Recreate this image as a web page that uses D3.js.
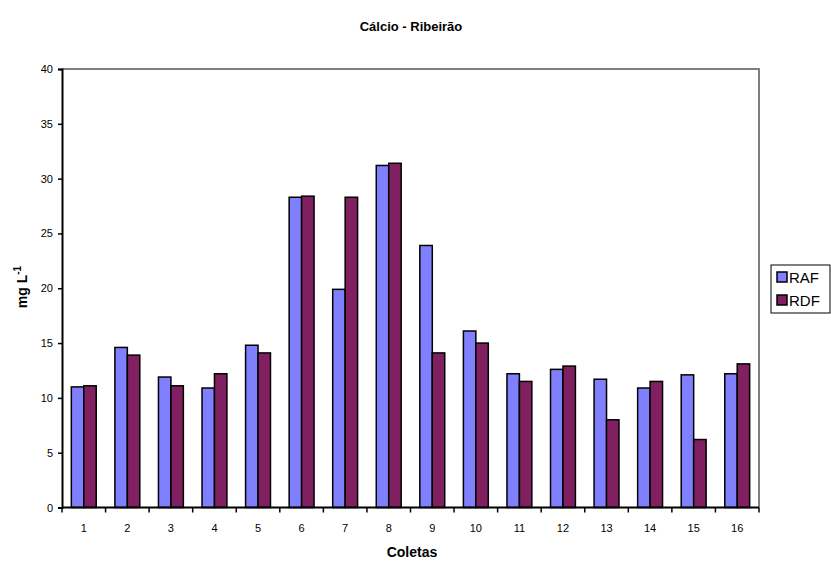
<!DOCTYPE html>
<html>
<head>
<meta charset="utf-8">
<script src="https://cdn.jsdelivr.net/npm/d3@7/dist/d3.min.js"></script>
<style>
  html, body { margin: 0; padding: 0; background: #fff; }
  svg { display: block; font-family: "Liberation Sans", Arial, sans-serif; }
</style>
</head>
<body>
<svg id="chart" width="831" height="561"></svg>
<script>
// Coletas (sampling campaigns) and calcium concentration per site
const coletas = ["1","2","3","4","5","6","7","8","9","10","11","12","13","14","15","16"];
const seriesNames = ["RAF", "RDF"];
const rafValues = [11.0, 14.6, 11.9, 10.9, 14.8, 28.3, 19.9, 31.2, 23.9, 16.1, 12.2, 12.6, 11.7, 10.9, 12.1, 12.2];
const rdfValues = [11.1, 13.9, 11.1, 12.2, 14.1, 28.4, 28.3, 31.4, 14.1, 15.0, 11.5, 12.9, 8.0, 11.5, 6.2, 13.1];
const yTicks = [0, 5, 10, 15, 20, 25, 30, 35, 40];
const colors = { RAF: "#8080FF", RDF: "#802060" };

const svg = d3.select("#chart");
const plot = { left: 62, right: 759, top: 69, bottom: 507.5 };

const x = d3.scaleBand().domain(coletas).range([plot.left, plot.right]).paddingInner(0).paddingOuter(0);
const bw = x.bandwidth();
const barW = bw / 3.5;               // gap width 150%
const xs = d3.scaleBand().domain(seriesNames).range([bw * 0.75 / 3.5, bw * 0.75 / 3.5 + 2 * barW]);
const y = d3.scaleLinear().domain([0, 40]).range([plot.bottom, plot.top]);

// plot frame (top and right edges in grey)
svg.append("path")
  .attr("d", `M${plot.left},${plot.top}H${plot.right}V${plot.bottom}`)
  .attr("fill", "none").attr("stroke", "#808080").attr("stroke-width", 2);

// bars
const rows = coletas.map((c, i) => ({ c, RAF: rafValues[i], RDF: rdfValues[i] }));
const groups = svg.append("g").selectAll("g").data(rows).join("g")
  .attr("transform", d => `translate(${x(d.c)},0)`);
groups.selectAll("rect")
  .data(d => seriesNames.map(k => ({ k, v: d[k] })))
  .join("rect")
  .attr("x", d => xs(d.k))
  .attr("width", xs.bandwidth())
  .attr("y", d => y(d.v))
  .attr("height", d => y(0) - y(d.v))
  .attr("fill", d => colors[d.k])
  .attr("stroke", "#000").attr("stroke-width", 1.5);

// y axis
const yAxis = d3.axisLeft(y).tickValues(yTicks).tickSize(4).tickPadding(5);
const gy = svg.append("g").attr("transform", `translate(${plot.left},0)`).call(yAxis);
gy.select(".domain").attr("stroke", "#000").attr("stroke-width", 2);
gy.selectAll(".tick line").attr("stroke", "#000").attr("stroke-width", 1.5);
gy.selectAll(".tick text").attr("font-size", 11).attr("fill", "#000")
  .attr("font-family", "Liberation Sans, Arial, sans-serif");

// x axis: ticks on band boundaries, labels centred in bands
const gx = svg.append("g").attr("transform", `translate(0,${plot.bottom})`);
gx.append("line").attr("x1", plot.left).attr("x2", plot.right)
  .attr("stroke", "#000").attr("stroke-width", 2);
const bounds = coletas.map(c => x(c)).concat([plot.right]);
gx.selectAll("line.tk").data(bounds).join("line").attr("class", "tk")
  .attr("x1", d => d).attr("x2", d => d).attr("y1", 0).attr("y2", 5)
  .attr("stroke", "#000").attr("stroke-width", 1.5);
gx.selectAll("text").data(coletas).join("text")
  .attr("x", d => x(d) + bw / 2).attr("y", 24)
  .attr("text-anchor", "middle").attr("font-size", 11).attr("fill", "#000")
  .text(d => d);

// title and axis titles
svg.append("text").attr("x", 411).attr("y", 31).attr("text-anchor", "middle")
  .attr("font-size", 13).attr("font-weight", "bold").text("Cálcio - Ribeirão");
svg.append("text").attr("x", 412).attr("y", 557).attr("text-anchor", "middle")
  .attr("font-size", 14).attr("font-weight", "bold").text("Coletas");
const yl = svg.append("text").attr("transform", "translate(27,287) rotate(-90)")
  .attr("text-anchor", "middle").attr("font-size", 14).attr("font-weight", "bold");
yl.append("tspan").text("mg L");
yl.append("tspan").attr("dy", -6).attr("font-size", 10).text("-1");

// legend
const lg = svg.append("g").attr("transform", "translate(771,265)");
lg.append("rect").attr("width", 59).attr("height", 48)
  .attr("fill", "#fff").attr("stroke", "#000").attr("stroke-width", 1);
seriesNames.forEach((k, i) => {
  lg.append("rect").attr("x", 6).attr("y", 7 + i * 23).attr("width", 10).attr("height", 10)
    .attr("fill", colors[k]).attr("stroke", "#000").attr("stroke-width", 1.5);
  lg.append("text").attr("x", 18).attr("y", 18 + i * 23)
    .attr("font-size", 15).attr("fill", "#000").text(k);
});
</script>
</body>
</html>
